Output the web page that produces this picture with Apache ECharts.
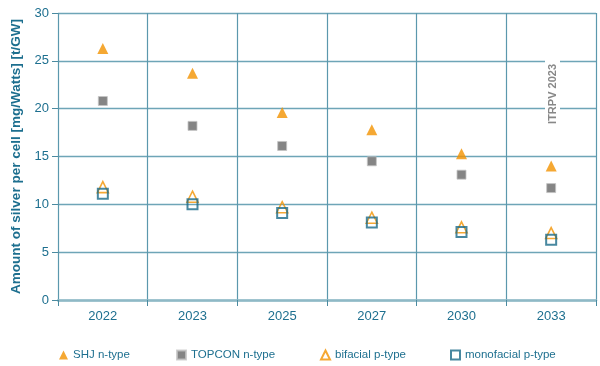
<!DOCTYPE html>
<html><head><meta charset="utf-8">
<script src="https://cdn.jsdelivr.net/npm/echarts@6/dist/echarts.min.js"></script>
<style>html,body{margin:0;padding:0;background:#fff}#c{width:600px;height:366px}</style>
</head><body><div id="c"></div>
<script>
const categories = ['2022','2023','2025','2027','2030','2033'];
const shj = [26.3, 23.7, 19.6, 17.8, 15.3, 14.0];
const topcon = [20.8, 18.2, 16.1, 14.5, 13.1, 11.7];
const bifacial = [11.8, 10.8, 9.7, 8.6, 7.6, 7.0];
const monofacial = [11.1, 10.0, 9.1, 8.1, 7.1, 6.3];
const yTicks = [0, 5, 10, 15, 20, 25, 30];
const seriesNames = ['SHJ n-type', 'TOPCON n-type', 'bifacial p-type', 'monofacial p-type'];

const teal = '#1d6f8f';
const legendLeft = [59, 176, 320, 450];
const legends = seriesNames.map((n, i) => ({
  data: [n], bottom: 5, left: legendLeft[i], padding: 0, itemWidth: 9, itemHeight: 9, itemGap: 4,
  textStyle: { color: teal, fontSize: 11.5, fontFamily: 'Liberation Sans' }
}));
const chart = echarts.init(document.getElementById('c'));
chart.setOption({
  animation: false,
  grid: { left: 58, right: 4, top: 13, bottom: 66 },
  xAxis: {
    type: 'category', data: categories, boundaryGap: true,
    axisLine: { lineStyle: { color: '#8fb9c6', width: 2.5 } },
    axisTick: { show: true, length: 6, lineStyle: { color: '#4a8aa0' } },
    axisLabel: { color: teal, fontSize: 13, fontFamily: 'Liberation Sans', margin: 10 },
    splitLine: { show: true, lineStyle: { color: '#5b98ad', width: 1.2 } }
  },
  yAxis: {
    type: 'value', min: yTicks[0], max: yTicks[yTicks.length-1], interval: 5,
    name: 'Amount of silver per cell [mg/Watts] [t/GW]',
    nameLocation: 'middle', nameGap: 35,
    nameTextStyle: { color: teal, fontSize: 13.5, fontWeight: 'bold', fontFamily: 'Liberation Sans' },
    axisLine: { show: false },
    axisTick: { show: true, length: 6, lineStyle: { color: '#4a8aa0' } },
    axisLabel: { color: teal, fontSize: 13, fontFamily: 'Liberation Sans', margin: 9 },
    splitLine: { show: true, lineStyle: { color: '#6ea5b7', width: 1.4 } }
  },
  legend: legends,
  graphic: [{
    type: 'text', left: 545, top: 58, rotation: Math.PI/2, z: 100,
    style: { text: 'ITRPV 2023', fill: '#888888', font: 'bold 11px "Liberation Sans"',
      backgroundColor: '#fff', padding: [2, 6] }
  }],
  series: [
    { name: seriesNames[0], type: 'scatter', data: shj, symbol: 'triangle', symbolSize: 11,
      itemStyle: { color: '#f39200' }, z: 3 },
    { name: seriesNames[1], type: 'scatter', data: topcon, symbol: 'rect', symbolSize: 9,
      itemStyle: { color: '#666666', borderColor: '#c4c4c4', borderWidth: 1 }, z: 3 },
    { name: seriesNames[2], type: 'scatter', data: bifacial, symbol: 'triangle', symbolSize: 11,
      itemStyle: { color: 'rgba(255,255,255,0)', borderColor: '#f39200', borderWidth: 1.6 }, z: 4 },
    { name: seriesNames[3], type: 'scatter', data: monofacial, symbol: 'rect', symbolSize: 10,
      itemStyle: { color: 'rgba(255,255,255,0)', borderColor: '#1a6a88', borderWidth: 2 }, z: 5 }
  ]
});
</script></body></html>
